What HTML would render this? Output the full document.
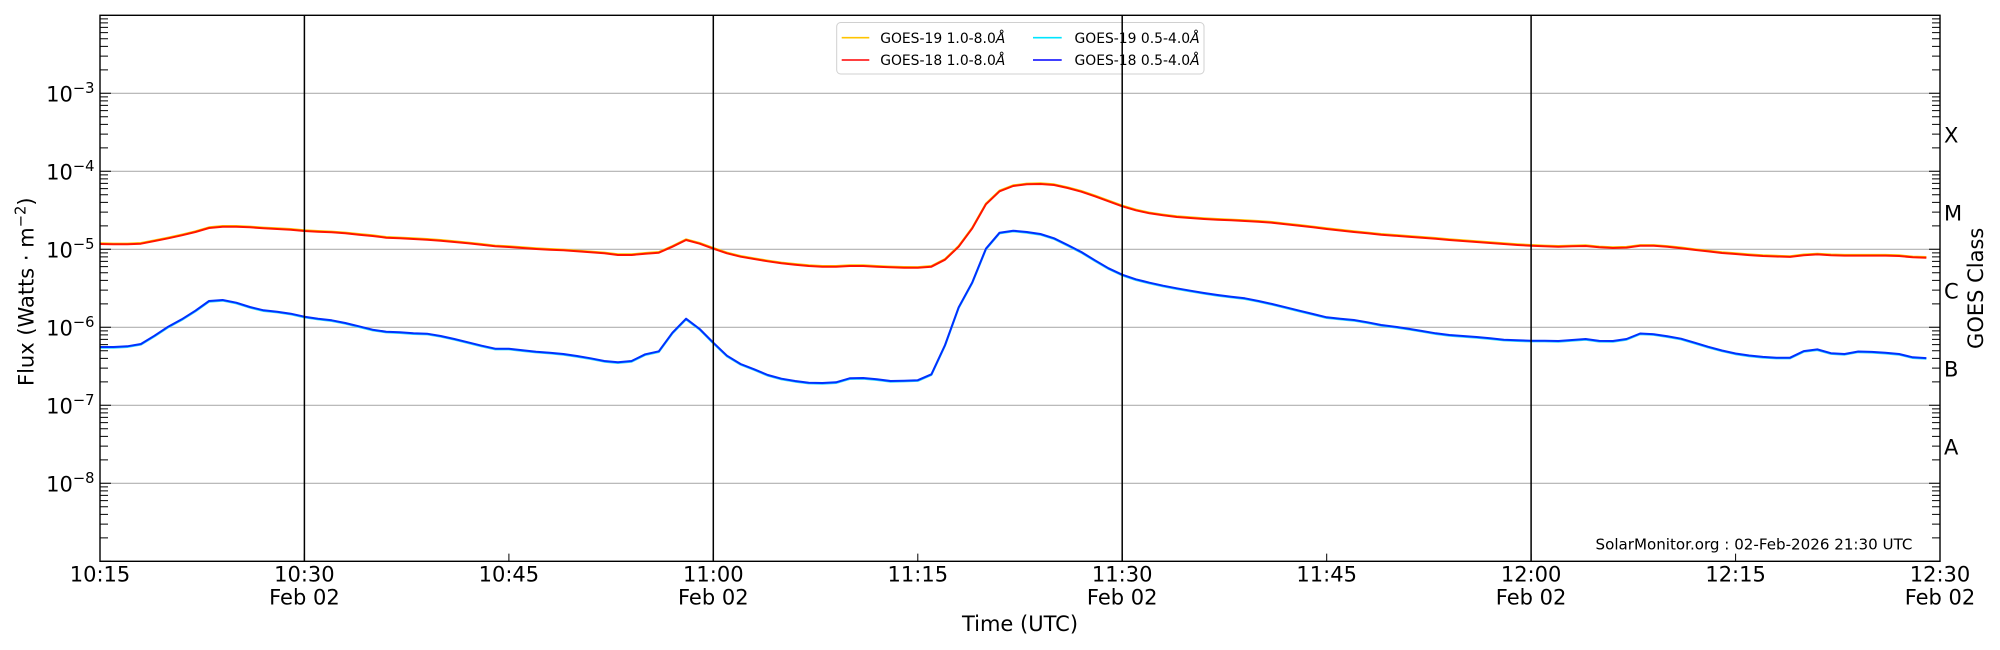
<!DOCTYPE html>
<html>
<head>
<meta charset="utf-8">
<style>
  html, body { margin: 0; padding: 0; background: #ffffff; }
  svg { display: block; }
  text { font-family: "DejaVu Sans", "Liberation Sans", sans-serif; fill: #000; }
</style>
</head>
<body>
<svg width="2000" height="650" viewBox="0 0 2000 650" xmlns="http://www.w3.org/2000/svg">
  <defs>
    <path id="minL" d="M100,-23.48h8M100,-37.22h8M100,-46.96h8M100,-54.52h8M100,-60.70h8M100,-65.92h8M100,-70.44h8M100,-74.43h8M100,0h11" stroke="#000" stroke-width="1" fill="none"/>
    <path id="minR" d="M1940,-23.48h-8M1940,-37.22h-8M1940,-46.96h-8M1940,-54.52h-8M1940,-60.70h-8M1940,-65.92h-8M1940,-70.44h-8M1940,-74.43h-8M1940,0h-11" stroke="#000" stroke-width="1" fill="none"/>
  </defs>
  <rect x="0" y="0" width="2000" height="650" fill="#ffffff"/>

  <!-- horizontal gridlines at decades -->
  <g stroke="#b0b0b0" stroke-width="1.1">
    <line x1="100" y1="93.3" x2="1940" y2="93.3"/>
    <line x1="100" y1="171.3" x2="1940" y2="171.3"/>
    <line x1="100" y1="249.3" x2="1940" y2="249.3"/>
    <line x1="100" y1="327.3" x2="1940" y2="327.3"/>
    <line x1="100" y1="405.3" x2="1940" y2="405.3"/>
    <line x1="100" y1="483.3" x2="1940" y2="483.3"/>
  </g>

  <!-- data series -->
  <g fill="none" stroke-linejoin="round" stroke-linecap="butt">
    <polyline transform="translate(100,-0.7) scale(13.6296,1)" vector-effect="non-scaling-stroke" stroke="#ffc400" stroke-width="2"
      points="0,244 1,244.3 2,244.3 3,243.7 4,241 5,238.3 6,235.3 7,232 8,228 9,226.7 10,226.7 11,227.3 12,228.3 13,229 14,229.7 15,231 16,231.7 17,232.3 18,233.3 19,234.7 20,236 21,237.7 22,238.3 23,239 24,239.7 25,240.7 26,242 27,243.3 28,244.7 29,246.3 30,247 31,248 32,249 33,249.7 34,250.3 35,251.3 36,252.3 37,253.3 38,255 39,255 40,253.7 41,252.7 42,246.7 43,240 44,243.7 45,248.7 46,253.3 47,256.7 48,259 49,261.3 50,263.3 51,264.7 52,266 53,266.7 54,266.7 55,266 56,266 57,266.7 58,267.3 59,267.7 60,267.8 61,266.7 62,259.7 63,246.7 64,228.3 65,204.3 66,191.3 67,186 68,184.3 69,184 70,185 71,188 72,191.7 73,196.3 74,201.3 75,206.3 76,210.3 77,213.3 78,215.3 79,217 80,218 81,219 82,219.7 83,220.3 84,221 85,221.7 86,222.7 87,224.3 88,225.7 89,227.3 90,229 91,230.5 92,232 93,233.3 94,234.7 95,235.7 96,236.7 97,237.7 98,238.7 99,240 100,241 101,242 102,243 103,244 104,245 105,245.7 106,246.3 107,246.7 108,246.3 109,246 110,247.3 111,248 112,247.6 113,245.8 114,245.8 115,246.8 116,248.2 117,249.9 118,251.4 119,253 120,254 121,255.1 122,256 123,256.5 124,256.9 125,255.2 126,254.4 127,255.2 128,255.6 129,255.6 130,255.6 131,255.6 132,256 133,257.3 134,257.7"/>
    <polyline transform="translate(100,0) scale(13.6296,1)" vector-effect="non-scaling-stroke" stroke="#ff1500" stroke-width="2"
      points="0,244 1,244.3 2,244.3 3,243.7 4,241 5,238.3 6,235.3 7,232 8,228 9,226.7 10,226.7 11,227.3 12,228.3 13,229 14,229.7 15,231 16,231.7 17,232.3 18,233.3 19,234.7 20,236 21,237.7 22,238.3 23,239 24,239.7 25,240.7 26,242 27,243.3 28,244.7 29,246.3 30,247 31,248 32,249 33,249.7 34,250.3 35,251.3 36,252.3 37,253.3 38,255 39,255 40,253.7 41,252.7 42,246.7 43,240 44,243.7 45,248.7 46,253.3 47,256.7 48,259 49,261.3 50,263.3 51,264.7 52,266 53,266.7 54,266.7 55,266 56,266 57,266.7 58,267.3 59,267.7 60,267.8 61,266.7 62,259.7 63,246.7 64,228.3 65,204.3 66,191.3 67,186 68,184.3 69,184 70,185 71,188 72,191.7 73,196.3 74,201.3 75,206.3 76,210.3 77,213.3 78,215.3 79,217 80,218 81,219 82,219.7 83,220.3 84,221 85,221.7 86,222.7 87,224.3 88,225.7 89,227.3 90,229 91,230.5 92,232 93,233.3 94,234.7 95,235.7 96,236.7 97,237.7 98,238.7 99,240 100,241 101,242 102,243 103,244 104,245 105,245.7 106,246.3 107,246.7 108,246.3 109,246 110,247.3 111,248 112,247.6 113,245.8 114,245.8 115,246.8 116,248.2 117,249.9 118,251.4 119,253 120,254 121,255.1 122,256 123,256.5 124,256.9 125,255.2 126,254.4 127,255.2 128,255.6 129,255.6 130,255.6 131,255.6 132,256 133,257.3 134,257.7"/>
    <polyline transform="translate(100,0.7) scale(13.6296,1)" vector-effect="non-scaling-stroke" stroke="#30d8ff" stroke-width="2"
      points="0,347 1,347 2,346.3 3,344 4,335.7 5,326.7 6,319.3 7,310.7 8,301 9,300 10,302.7 11,307 12,310.3 13,311.7 14,313.7 15,316.7 16,318.7 17,320.3 18,323 19,326.3 20,329.7 21,331.7 22,332.3 23,333.3 24,333.7 25,336 26,339 27,342.3 28,345.7 29,348.7 30,348.7 31,350.3 32,351.7 33,352.7 34,354 35,356 36,358.3 37,361 38,362.3 39,361 40,354.3 41,351.3 42,332.7 43,318.7 44,329 45,342.7 46,355.7 47,364 48,369.3 49,375 50,378.7 51,381 52,382.7 53,383 54,382.3 55,378.3 56,378 57,379.3 58,381 59,380.7 60,380.2 61,374.3 62,345 63,307.3 64,282.3 65,248.7 66,232.7 67,230.7 68,232 69,234 70,238.3 71,245 72,252 73,260.3 74,268.3 75,274.7 76,279.3 77,282.7 78,285.7 79,288.3 80,290.7 81,293 82,295 83,296.7 84,298.3 85,301 86,304 87,307.3 88,310.7 89,314 90,317.3 91,318.7 92,320 93,322.3 94,325 95,326.7 96,328.7 97,331 98,333.3 99,335 100,336 101,337 102,338.3 103,339.7 104,340.3 105,340.7 106,340.7 107,341 108,340 109,339 110,340.9 111,341 112,339 113,333.5 114,334.2 115,336.3 116,338.7 117,342.7 118,346.8 119,350.5 120,353.5 121,355.5 122,356.9 123,357.7 124,357.7 125,351.1 126,349.4 127,353.2 128,354 129,351.5 130,351.9 131,352.8 132,354 133,357.3 134,358.1"/>
    <polyline transform="translate(100,0) scale(13.6296,1)" vector-effect="non-scaling-stroke" stroke="#0030ff" stroke-width="2"
      points="0,347 1,347 2,346.3 3,344 4,335.7 5,326.7 6,319.3 7,310.7 8,301 9,300 10,302.7 11,307 12,310.3 13,311.7 14,313.7 15,316.7 16,318.7 17,320.3 18,323 19,326.3 20,329.7 21,331.7 22,332.3 23,333.3 24,333.7 25,336 26,339 27,342.3 28,345.7 29,348.7 30,348.7 31,350.3 32,351.7 33,352.7 34,354 35,356 36,358.3 37,361 38,362.3 39,361 40,354.3 41,351.3 42,332.7 43,318.7 44,329 45,342.7 46,355.7 47,364 48,369.3 49,375 50,378.7 51,381 52,382.7 53,383 54,382.3 55,378.3 56,378 57,379.3 58,381 59,380.7 60,380.2 61,374.3 62,345 63,307.3 64,282.3 65,248.7 66,232.7 67,230.7 68,232 69,234 70,238.3 71,245 72,252 73,260.3 74,268.3 75,274.7 76,279.3 77,282.7 78,285.7 79,288.3 80,290.7 81,293 82,295 83,296.7 84,298.3 85,301 86,304 87,307.3 88,310.7 89,314 90,317.3 91,318.7 92,320 93,322.3 94,325 95,326.7 96,328.7 97,331 98,333.3 99,335 100,336 101,337 102,338.3 103,339.7 104,340.3 105,340.7 106,340.7 107,341 108,340 109,339 110,340.9 111,341 112,339 113,333.5 114,334.2 115,336.3 116,338.7 117,342.7 118,346.8 119,350.5 120,353.5 121,355.5 122,356.9 123,357.7 124,357.7 125,351.1 126,349.4 127,353.2 128,354 129,351.5 130,351.9 131,352.8 132,354 133,357.3 134,358.1"/>
  </g>

  <!-- legend -->
  <rect x="836.7" y="22.5" width="367.3" height="51.5" rx="4" ry="4" fill="#ffffff" fill-opacity="0.85" stroke="#d0d0d0" stroke-width="1"/>
  <g stroke-width="1.6">
    <line x1="841.7" y1="37.7" x2="869.3" y2="37.7" stroke="#ffc400"/>
    <line x1="841.7" y1="60" x2="869.3" y2="60" stroke="#ff0000"/>
    <line x1="1033" y1="37.7" x2="1061.7" y2="37.7" stroke="#00e5ff"/>
    <line x1="1033" y1="60" x2="1061.7" y2="60" stroke="#0000ff"/>
  </g>
  <g font-size="13.9">
    <text x="880.2" y="42.8">GOES-19 1.0-8.0<tspan font-style="italic">Å</tspan></text>
    <text x="880.2" y="65.1">GOES-18 1.0-8.0<tspan font-style="italic">Å</tspan></text>
    <text x="1074.5" y="42.8">GOES-19 0.5-4.0<tspan font-style="italic">Å</tspan></text>
    <text x="1074.5" y="65.1">GOES-18 0.5-4.0<tspan font-style="italic">Å</tspan></text>
  </g>

  <!-- vertical black lines at 30-min marks -->
  <g stroke="#000" stroke-width="1.5">
    <line x1="304.4" y1="15.3" x2="304.4" y2="561.3"/>
    <line x1="713.3" y1="15.3" x2="713.3" y2="561.3"/>
    <line x1="1122.2" y1="15.3" x2="1122.2" y2="561.3"/>
    <line x1="1531.1" y1="15.3" x2="1531.1" y2="561.3"/>
  </g>

  <!-- y ticks (left & right) -->
  <use href="#minL" transform="translate(0,561.3)"/>
  <use href="#minL" transform="translate(0,483.3)"/>
  <use href="#minL" transform="translate(0,405.3)"/>
  <use href="#minL" transform="translate(0,327.3)"/>
  <use href="#minL" transform="translate(0,249.3)"/>
  <use href="#minL" transform="translate(0,171.3)"/>
  <use href="#minL" transform="translate(0,93.3)"/>
  <use href="#minR" transform="translate(0,561.3)"/>
  <use href="#minR" transform="translate(0,483.3)"/>
  <use href="#minR" transform="translate(0,405.3)"/>
  <use href="#minR" transform="translate(0,327.3)"/>
  <use href="#minR" transform="translate(0,249.3)"/>
  <use href="#minR" transform="translate(0,171.3)"/>
  <use href="#minR" transform="translate(0,93.3)"/>

  <!-- x ticks -->
  <path d="M508.9,561.3v-7.7M917.8,561.3v-7.7M1326.7,561.3v-7.7M1735.6,561.3v-7.7M304.4,561.3v-7.7M713.3,561.3v-7.7M1122.2,561.3v-7.7M1531.1,561.3v-7.7" stroke="#000" stroke-width="1"/>

  <!-- axes frame -->
  <rect x="100" y="15.3" width="1840" height="546" fill="none" stroke="#000" stroke-width="1.4"/>

  <!-- y tick labels -->
  <g font-size="21" text-anchor="end">
    <text x="94.5" y="101.7">10<tspan font-size="14.7" dy="-8.5">−3</tspan></text>
    <text x="94.5" y="179.7">10<tspan font-size="14.7" dy="-8.5">−4</tspan></text>
    <text x="94.5" y="257.7">10<tspan font-size="14.7" dy="-8.5">−5</tspan></text>
    <text x="94.5" y="335.7">10<tspan font-size="14.7" dy="-8.5">−6</tspan></text>
    <text x="94.5" y="413.7">10<tspan font-size="14.7" dy="-8.5">−7</tspan></text>
    <text x="94.5" y="491.7">10<tspan font-size="14.7" dy="-8.5">−8</tspan></text>
  </g>

  <!-- x tick labels -->
  <g font-size="21" text-anchor="middle">
    <text x="100" y="581.7">10:15</text>
    <text x="304.4" y="581.7">10:30</text>
    <text x="304.4" y="604.3">Feb 02</text>
    <text x="508.9" y="581.7">10:45</text>
    <text x="713.3" y="581.7">11:00</text>
    <text x="713.3" y="604.3">Feb 02</text>
    <text x="917.8" y="581.7">11:15</text>
    <text x="1122.2" y="581.7">11:30</text>
    <text x="1122.2" y="604.3">Feb 02</text>
    <text x="1326.7" y="581.7">11:45</text>
    <text x="1531.1" y="581.7">12:00</text>
    <text x="1531.1" y="604.3">Feb 02</text>
    <text x="1735.6" y="581.7">12:15</text>
    <text x="1940" y="581.7">12:30</text>
    <text x="1940" y="604.3">Feb 02</text>
    <text x="1020" y="631">Time (UTC)</text>
  </g>

  <!-- GOES class letters -->
  <g font-size="21">
    <text x="1944" y="142.5">X</text>
    <text x="1944" y="220.5">M</text>
    <text x="1944" y="298.3">C</text>
    <text x="1944" y="376.3">B</text>
    <text x="1944" y="454.5">A</text>
  </g>

  <!-- axis labels -->
  <text font-size="21" text-anchor="middle" transform="translate(33.3,291.7) rotate(-90)">Flux (Watts · m<tspan font-size="14.7" dy="-8">−2</tspan><tspan dy="8">)</tspan></text>
  <text font-size="21" text-anchor="middle" transform="translate(1983,288.3) rotate(-90)">GOES Class</text>

  <!-- watermark -->
  <text x="1595.5" y="549.3" font-size="15.1">SolarMonitor.org : 02-Feb-2026 21:30 UTC</text>
</svg>
</body>
</html>
